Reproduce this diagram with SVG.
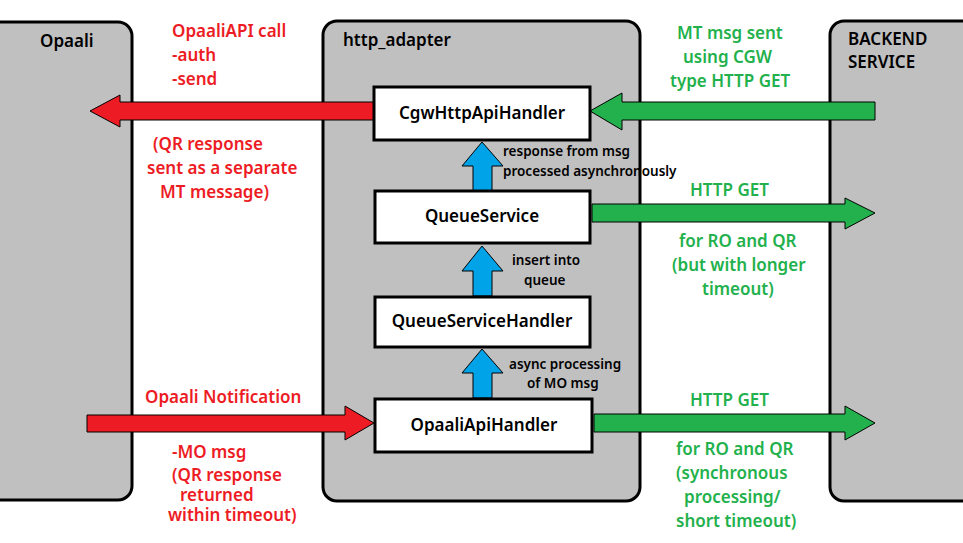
<svg xmlns="http://www.w3.org/2000/svg" width="963" height="543" viewBox="0 0 963 543">
<style>
.panel{fill:#c0c0c0;stroke:#000;stroke-width:3}
.box{fill:#fff;stroke:#000;stroke-width:3}
text{font-family:"Noto Sans","Liberation Sans",sans-serif;font-weight:600}
.t{font-size:17px;fill:#000}
.r{font-size:17px;fill:#ed1c24}
.g{font-size:17px;fill:#22b14c}
.s{font-size:13.5px;fill:#000}
.red{fill:#ed1c24;stroke:#000;stroke-width:1}
.grn{fill:#22b14c;stroke:#000;stroke-width:1}
.blu{fill:#00a2e8;stroke:#000;stroke-width:1}
</style>
<rect width="963" height="543" fill="#fff"/>
<g id="opaali"><rect class="panel" x="-20" y="22" width="152" height="478" rx="14"/><text class="t" x="40" y="47">Opaali</text></g>
<g id="http_adapter"><rect class="panel" x="323" y="21" width="317" height="480" rx="14"/><text class="t" x="343" y="46">http_adapter</text></g>
<g id="backend"><rect class="panel" x="830" y="21" width="160" height="480" rx="14"/><text class="t" x="848" y="45">BACKEND</text><text class="t" x="848" y="68">SERVICE</text></g>
<g id="connectors">
<polygon class="red" points="374,102 120,102 120,95 90,111 120,127 120,120 374,120"/>
<polygon class="grn" points="875,102 622,102 622,93 590,111 622,130 622,120 875,120"/>
<polygon class="grn" points="592,204 845,204 845,198 875,213 845,229 845,222 592,222"/>
<polygon class="grn" points="594,414 845,414 845,406 875,423 845,440 845,432 594,432"/>
<polygon class="red" points="87,415 345,415 345,406 374,423 345,440 345,432 87,432"/>
<polygon class="blu" points="473,191 473,166 462,166 482,142 503,166 492,166 492,191"/>
<polygon class="blu" points="473,296 473,271 462,271 482,246 503,271 492,271 492,296"/>
<polygon class="blu" points="473,398 473,373 462,373 482,349 503,373 492,373 492,398"/>
</g>
<g id="CgwHttpApiHandler"><rect class="box" x="374" y="87" width="216" height="53"/><text class="t" x="482" y="119" text-anchor="middle">CgwHttpApiHandler</text></g>
<g id="QueueService"><rect class="box" x="375" y="191" width="215" height="52"/><text class="t" x="482" y="222" text-anchor="middle">QueueService</text></g>
<g id="QueueServiceHandler"><rect class="box" x="375" y="297" width="215" height="50"/><text class="t" x="482" y="327" text-anchor="middle">QueueServiceHandler</text></g>
<g id="OpaaliApiHandler"><rect class="box" x="375" y="399" width="217" height="53"/><text class="t" x="484" y="431" text-anchor="middle">OpaaliApiHandler</text></g>
<g id="labels">
<text class="r" x="172" y="37">OpaaliAPI call</text>
<text class="r" x="172" y="61">-auth</text>
<text class="r" x="172" y="85">-send</text>
<text class="r" x="153" y="150">(QR response</text>
<text class="r" x="147" y="174">sent as a separate</text>
<text class="r" x="160" y="198">MT message)</text>
<text class="g" x="677" y="39">MT msg sent</text>
<text class="g" x="683" y="63">using CGW</text>
<text class="g" x="670" y="87">type HTTP GET</text>
<text class="s" x="503" y="156">response from msg</text>
<text class="s" x="503" y="176">processed asynchronously</text>
<text class="g" x="690" y="196">HTTP GET</text>
<text class="g" x="679" y="247">for RO and QR</text>
<text class="g" x="672" y="271">(but with longer</text>
<text class="g" x="702" y="295">timeout)</text>
<text class="s" x="512" y="265">insert into</text>
<text class="s" x="524" y="285">queue</text>
<text class="s" x="509" y="369">async processing</text>
<text class="s" x="527" y="388">of MO msg</text>
<text class="r" x="145" y="403">Opaali Notification</text>
<text class="r" x="172" y="458">-MO msg</text>
<text class="r" x="172" y="481">(QR response</text>
<text class="r" x="180" y="501">returned</text>
<text class="r" x="168" y="521">within timeout)</text>
<text class="g" x="690" y="406">HTTP GET</text>
<text class="g" x="676" y="455">for RO and QR</text>
<text class="g" x="676" y="479">(synchronous</text>
<text class="g" x="684" y="503">processing/</text>
<text class="g" x="676" y="527">short timeout)</text>
</g>
</svg>
